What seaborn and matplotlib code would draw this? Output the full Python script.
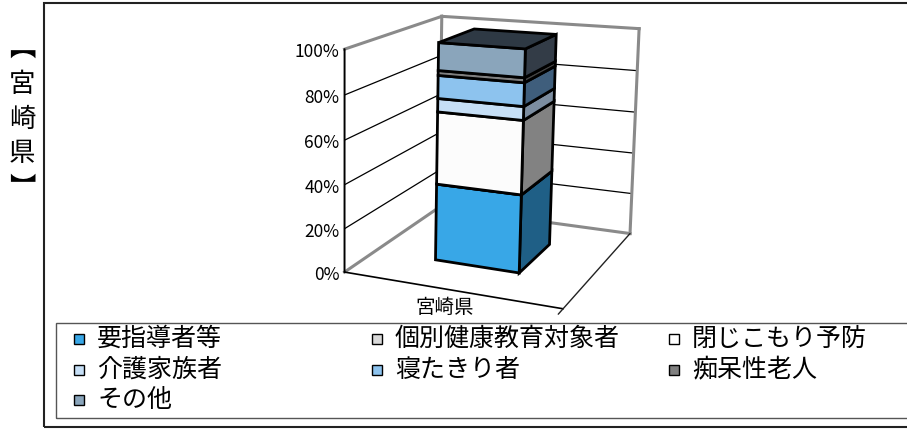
import numpy as np
import matplotlib
matplotlib.use("Agg")
import matplotlib.pyplot as plt
from matplotlib.transforms import Transform
from matplotlib.patches import Polygon, Rectangle
import seaborn as sns

# ---------------- data ----------------
region = "宮崎県"
categories = ["要指導者等", "個別健康教育対象者", "閉じこもり予防", "介護家族者",
              "寝たきり者", "痴呆性老人", "その他"]
shares = [35.6, 0.0, 33.2, 6.1, 10.4, 2.2, 12.5]
value_ticks = [0, 20, 40, 60, 80, 100]
tick_labels = ["0%", "20%", "40%", "60%", "80%", "100%"]
side_title = "︻\n宮\n崎\n県\n︼"

# ---------------- style ----------------
front_colors = ["#38A7E7", "#D9D9D9", "#FCFCFC", "#C6DFF6", "#8DC3EE", "#808080", "#8AA5BB"]
side_colors = ["#1F5F86", "#7A7A7A", "#828282", "#7C8DA0", "#3F5E7C", "#454545", "#333C47"]
legend_colors = ["#38A7E7", "#D9D9D9", "#FFFFFF", "#C6DFF6", "#8DC3EE", "#808080", "#8AA5BB"]
top_color = "#2E3944"
wall_gray = "#8A8A8A"

W, H = 907, 429
sns.set_theme(style="white")
plt.rcParams["font.family"] = ["Noto Sans CJK JP", "DejaVu Sans"]

# ---------------- perspective camera (layout of the 3-D box) ----------------
box_corners = np.array([[0, 0, 0], [0, 0, 1], [0, 1, 1], [1, 1, 1],
                        [1, 1, 0], [1, 0, 0], [0, 1, 0]], float)
screen_corners = np.array([[348, 273], [342, 48], [445, 17], [638, 29],
                           [632, 233], [562, 309], [435, 207]], float)
rows_A, rows_b = [], []
for (X, Y, Z), (u, v) in zip(box_corners, screen_corners):
    rows_A.append([X, Y, Z, 1, 0, 0, 0, 0, -u * X, -u * Y, -u * Z]); rows_b.append(u)
    rows_A.append([0, 0, 0, 0, X, Y, Z, 1, -v * X, -v * Y, -v * Z]); rows_b.append(v)
cam = np.linalg.lstsq(np.array(rows_A), np.array(rows_b), rcond=None)[0]
CAM = np.append(cam, 1.0).reshape(3, 4)


def project(X, Y, Z):
    X, Y, Z = np.broadcast_arrays(np.asarray(X, float), np.asarray(Y, float),
                                  np.asarray(Z, float))
    q = CAM @ np.stack([X.ravel(), Y.ravel(), Z.ravel(), np.ones(X.size)])
    return q[0] / q[2], q[1] / q[2]


def to_fig(u, v):
    return np.asarray(u) / W, 1 - np.asarray(v) / H


class PlaneTransform(Transform):
    """Maps 2-D data coords of a bar face into figure fraction via the camera."""
    input_dims = 2
    output_dims = 2
    is_separable = False
    has_inverse = False

    def __init__(self, mapper):
        super().__init__()
        self._mapper = mapper

    def transform_non_affine(self, values):
        values = np.asarray(values, float).reshape(-1, 2)
        X, Y, Z = self._mapper(values[:, 0], values[:, 1])
        u, v = project(X, Y, Z)
        fx, fy = to_fig(u, v)
        return np.column_stack([fx, fy])


bar_width = 0.4
x_center = 0.5
d_front, d_back = 0.3, 0.7

fig = plt.figure(figsize=(W / 100, H / 100), dpi=100)
ax = fig.add_axes([0, 0, 1, 1])


def line3d(p0, p1, **kw):
    u, v = project([p0[0], p1[0]], [p0[1], p1[1]], [p0[2], p1[2]])
    fx, fy = to_fig(u, v)
    ax.plot(fx, fy, transform=fig.transFigure, clip_on=False, **kw)


# walls: gridlines
for t in value_ticks[1:-1]:
    z = t / 100
    line3d((0, 0, z), (0, 1, z), color="black", lw=0.9, zorder=1)
    line3d((0, 1, z), (1, 1, z), color="black", lw=0.9, zorder=1)
# wall edges
for a, b in [((0, 0, 1), (0, 1, 1)), ((0, 1, 0), (0, 1, 1)), ((0, 1, 1), (1, 1, 1)),
             ((1, 1, 0), (1, 1, 1)), ((0, 0, 0), (0, 1, 0)), ((0, 1, 0), (1, 1, 0))]:
    line3d(a, b, color=wall_gray, lw=2.2, zorder=1.2, solid_capstyle="projecting")
# axes
line3d((0, 0, 0), (0, 0, 1), color="black", lw=1.4, zorder=1.5)
line3d((0, 0, 0), (1, 0, 0), color="black", lw=1.2, zorder=1.5)
line3d((1, 0, 0), (1, 1, 0), color="#222222", lw=1.0, zorder=1.5)
line3d((1, 0, 0), (1, -0.06, 0), color="#222222", lw=1.0, zorder=1.5)

# ---------------- bars (seaborn) ----------------
bottoms = np.concatenate([[0.0], np.cumsum(shares)[:-1]])


def side_map(a, c):
    return np.full_like(a, x_center + bar_width / 2), x_center + a, c / 100


def front_map(a, c):
    return x_center + a, np.full_like(a, d_front), c / 100


for colors, mapper, zo in [(side_colors, side_map, 2), (front_colors, front_map, 3)]:
    for val, base, col in zip(shares, bottoms, colors):
        n0 = len(ax.patches)
        sns.barplot(x=[region], y=[val], bottom=base, color=col, saturation=1,
                    width=bar_width, errorbar=None, ax=ax, edgecolor="black",
                    linewidth=2.0, zorder=zo)
        for patch in ax.patches[n0:]:
            patch.set_transform(PlaneTransform(mapper) + fig.transFigure)
            patch.set_clip_on(False)

# top face
ztop = sum(shares) / 100
x0, x1 = x_center - bar_width / 2, x_center + bar_width / 2
u, v = project([x0, x1, x1, x0], [d_front, d_front, d_back, d_back], ztop)
fx, fy = to_fig(u, v)
ax.add_patch(Polygon(np.column_stack([fx, fy]), closed=True, facecolor=top_color,
                     edgecolor="black", lw=2.0, transform=fig.transFigure,
                     clip_on=False, zorder=4))

# tick labels
for t, lab in zip(value_ticks, tick_labels):
    u, v = project(0, 0, t / 100)
    fig.text((u[0] - 5) / W, 1 - (v[0] + 3) / H, lab, ha="right", va="center",
             fontsize=12.5, color="black")

# category label
u, v = project(x_center, 0, 0)
fig.text((u[0] - 5) / W, 1 - (v[0] + 18) / H, region, ha="center", va="center",
         fontsize=14, color="black")

ax.set_axis_off()

# ---------------- frames ----------------
fig.add_artist(Rectangle((44 / W, 1 - 427 / H), (W + 10 - 44) / W, (427 - 3) / H,
                         fill=False, edgecolor="#222222", lw=1.5,
                         transform=fig.transFigure, clip_on=False))
fig.add_artist(Rectangle((56 / W, 1 - 418 / H), (W + 10 - 56) / W, (418 - 323) / H,
                         fill=False, edgecolor="#555555", lw=1.0,
                         transform=fig.transFigure, clip_on=False))

# ---------------- legend ----------------
legend_x = [74, 372, 669]
legend_y = [339, 370, 400]
for i, (cat, col) in enumerate(zip(categories, legend_colors)):
    r, c = divmod(i, 3)
    mx, my = legend_x[c], legend_y[r]
    fig.add_artist(Rectangle((mx / W, 1 - (my + 5) / H), 10 / W, 10 / H,
                             facecolor=col, edgecolor="black", lw=1.0,
                             transform=fig.transFigure))
    fig.text((mx + 23) / W, 1 - my / H, cat, ha="left", va="center",
             fontsize=18, color="black")

# ---------------- side title ----------------
fig.text(22 / W, 1 - 119 / H, side_title, ha="center", va="center",
         fontsize=19, linespacing=1.38, color="black")

fig.savefig("out.png", dpi=100, facecolor="white")
